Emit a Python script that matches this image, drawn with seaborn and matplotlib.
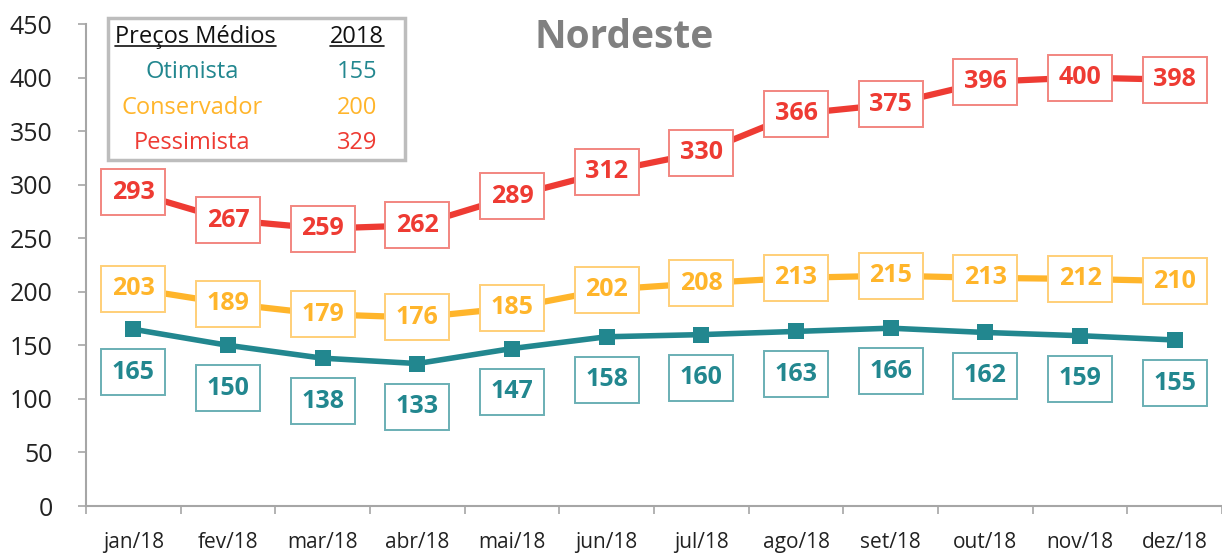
import matplotlib
matplotlib.use("Agg")
import matplotlib.pyplot as plt
import seaborn as sns
import pandas as pd
from matplotlib.patches import Rectangle
from matplotlib.lines import Line2D

months = ["jan/18", "fev/18", "mar/18", "abr/18", "mai/18", "jun/18",
          "jul/18", "ago/18", "set/18", "out/18", "nov/18", "dez/18"]
otimista = [165, 150, 138, 133, 147, 158, 160, 163, 166, 162, 159, 155]
conservador = [203, 189, 179, 176, 185, 202, 208, 213, 215, 213, 212, 210]
pessimista = [293, 267, 259, 262, 289, 312, 330, 366, 375, 396, 400, 398]
yticks = [0, 50, 100, 150, 200, 250, 300, 350, 400, 450]
legend_names = ["Otimista", "Conservador", "Pessimista"]
legend_values = ["155", "200", "329"]
title = "Nordeste"

TEAL = "#22878F"
ORANGE = "#FFB52B"
RED = "#EE3B33"
TEAL_E = "#6AAFB4"
ORANGE_E = "#FFCF78"
RED_E = "#F28680"

sns.set_theme(style="white")
plt.rcParams["font.family"] = ["Open Sans", "DejaVu Sans"]

fig = plt.figure(figsize=(12.22, 5.53), dpi=100)
W, H = 1222, 553
ax = fig.add_axes([86 / W, (H - 506) / H, (W - 86) / W, 482 / H])

x = list(range(len(months)))
df = pd.DataFrame({"x": x, "Otimista": otimista, "Conservador": conservador,
                   "Pessimista": pessimista})

sns.lineplot(data=df, x="x", y="Pessimista", ax=ax, color=RED, lw=4.5, zorder=2)
sns.lineplot(data=df, x="x", y="Conservador", ax=ax, color=ORANGE, lw=4.5, zorder=2)
sns.lineplot(data=df, x="x", y="Otimista", ax=ax, color=TEAL, lw=4, marker="s",
             markersize=11, markeredgewidth=0, zorder=2)

def label(xi, yi, txt, col, ecol, dy):
    ax.annotate(txt, (xi, yi), xytext=(0, dy), textcoords="offset points",
                ha="center", va="center", fontsize=18, fontweight="bold", color=col,
                bbox=dict(boxstyle="square,pad=0.42", fc="white", ec=ecol, lw=1.4),
                zorder=5)

for i in x:
    label(i, pessimista[i], str(pessimista[i]), RED, RED_E, 0)
    label(i, conservador[i], str(conservador[i]), ORANGE, ORANGE_E, 0)
    label(i, otimista[i], str(otimista[i]), TEAL, TEAL_E, -31)

ax.set_xlim(-0.5, -0.5 + (W - 86) / 95.5)
ax.set_ylim(0, 450)
ax.set_yticks(yticks)
ax.set_yticklabels([str(v) for v in yticks], fontsize=18, color="#222222")
ax.set_xticks(x)
ax.set_xticklabels(months, fontsize=15, color="#222222")
ax.set_xticks([i + 0.5 for i in range(-1, 12)], minor=True)
ax.tick_params(axis="x", which="major", length=0, pad=19)
ax.tick_params(axis="x", which="minor", length=6, width=1.2, color="#A6A6A6",
               direction="out", bottom=True)
ax.tick_params(axis="y", which="major", length=6, width=1.2, color="#A6A6A6",
               direction="out", left=True, pad=18)
ax.set_xlabel("")
ax.set_ylabel("")
for s in ["top", "right"]:
    ax.spines[s].set_visible(False)
for s in ["left", "bottom"]:
    ax.spines[s].set_color("#A6A6A6")
    ax.spines[s].set_linewidth(1.5)

fig.text(624 / W, 1 - 37 / H, title, ha="center", va="center", fontsize=28,
         fontweight="bold", color="#808080")

# legend table box
fig.add_artist(Rectangle((108 / W, (H - 160) / H), 297 / W, 142 / H,
                         transform=fig.transFigure, fc="white", ec="#BDBDBD",
                         lw=2.5, zorder=10))
t1 = fig.text(115 / W, 1 - 37 / H, "Preços Médios", ha="left", va="center",
              fontsize=17, color="#111111", zorder=11)
t2 = fig.text(357 / W, 1 - 37 / H, "2018", ha="center", va="center",
              fontsize=17, color="#111111", zorder=11)
cols = [TEAL, ORANGE, RED]
ys = [72, 108, 143]
for n, v, c, yy in zip(legend_names, legend_values, cols, ys):
    fig.text(192 / W, 1 - yy / H, n, ha="center", va="center", fontsize=17,
             color=c, zorder=11)
    fig.text(357 / W, 1 - yy / H, v, ha="center", va="center", fontsize=17,
             color=c, zorder=11)

fig.canvas.draw()
r = fig.canvas.get_renderer()
for t in (t1, t2):
    bb = t.get_window_extent(r)
    yline = bb.y0 + 3
    fig.add_artist(Line2D([bb.x0 / W, bb.x1 / W], [yline / H, yline / H],
                          transform=fig.transFigure, color="#111111", lw=1.2,
                          zorder=11))

fig.savefig("out.png", dpi=100)
